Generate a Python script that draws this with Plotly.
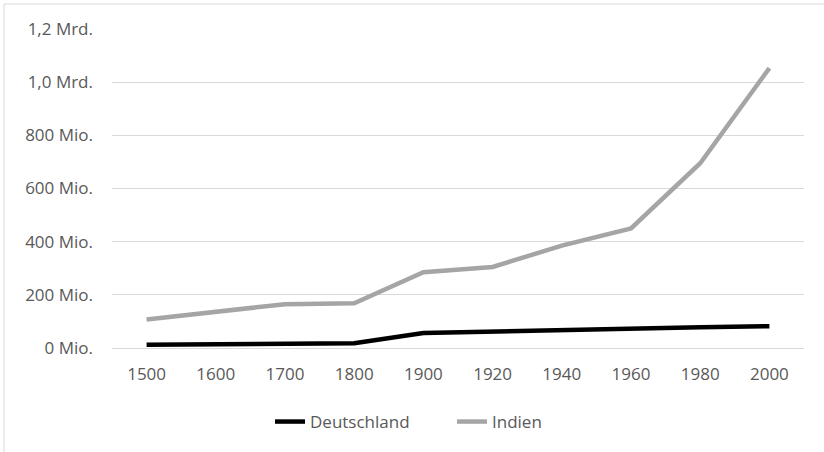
import plotly.graph_objects as go

years = ["1500", "1600", "1700", "1800", "1900", "1920", "1940", "1960", "1980", "2000"]
deutschland = [12e6, 15e6, 14e6, 18e6, 56e6, 62e6, 69e6, 73e6, 78e6, 82e6]
indien = [107e6, 135e6, 165e6, 168e6, 285e6, 305e6, 385e6, 450e6, 695e6, 1053e6]

y_tickvals = [0, 2e8, 4e8, 6e8, 8e8, 1e9, 1.2e9]
y_ticktext = ["0 Mio.", "200 Mio.", "400 Mio.", "600 Mio.", "800 Mio.", "1,0 Mrd.", "1,2 Mrd."]

W, H = 824, 452
L, R, T, B = 112, 20, 29, 104
pw, ph = W - L - R, H - T - B

fig = go.Figure()
fig.add_trace(go.Scatter(x=years, y=deutschland, name="Deutschland", mode="lines",
                         line=dict(color="#000000", width=4.5)))
fig.add_trace(go.Scatter(x=years, y=indien, name="Indien", mode="lines",
                         line=dict(color="#a5a5a5", width=4.5)))

font_family = "Open Sans, Liberation Sans, sans-serif"
fig.update_layout(
    width=W, height=H,
    margin=dict(l=L, r=R, t=T, b=B),
    paper_bgcolor="white", plot_bgcolor="white",
    font=dict(family=font_family, size=17, color="#595959"),
    showlegend=True,
    legend=dict(orientation="h", xref="container", yref="container",
                x=270 / W, y=1 - 422 / H, xanchor="left", yanchor="middle",
                entrywidth=137, entrywidthmode="pixels",
                font=dict(size=17, color="#595959"), traceorder="normal"),
    xaxis=dict(type="category", range=[-0.5, 9.5], showgrid=False, showline=False,
               zeroline=False, ticks="", tickfont=dict(size=17, color="#595959"),
               ticklabelstandoff=14),
    yaxis=dict(range=[0, 1.2e9], tickvals=y_tickvals, ticktext=y_ticktext,
               showgrid=True, gridcolor="#d9d9d9", gridwidth=1, zeroline=True,
               zerolinecolor="#d9d9d9", zerolinewidth=1, showline=False, ticks="",
               tickfont=dict(size=17, color="#595959"), ticklabelstandoff=18),
    shapes=[dict(type="rect", xref="paper", yref="paper",
                 x0=(4 - L) / pw, x1=1.5, y0=-1.0, y1=1 + (T - 4) / ph,
                 line=dict(color="#d9d9d9", width=1), fillcolor="rgba(0,0,0,0)",
                 layer="below")],
)

fig.write_html("out.html", config={"displayModeBar": False},
               post_script="document.body.style.margin='0';document.body.style.overflow='hidden';")
